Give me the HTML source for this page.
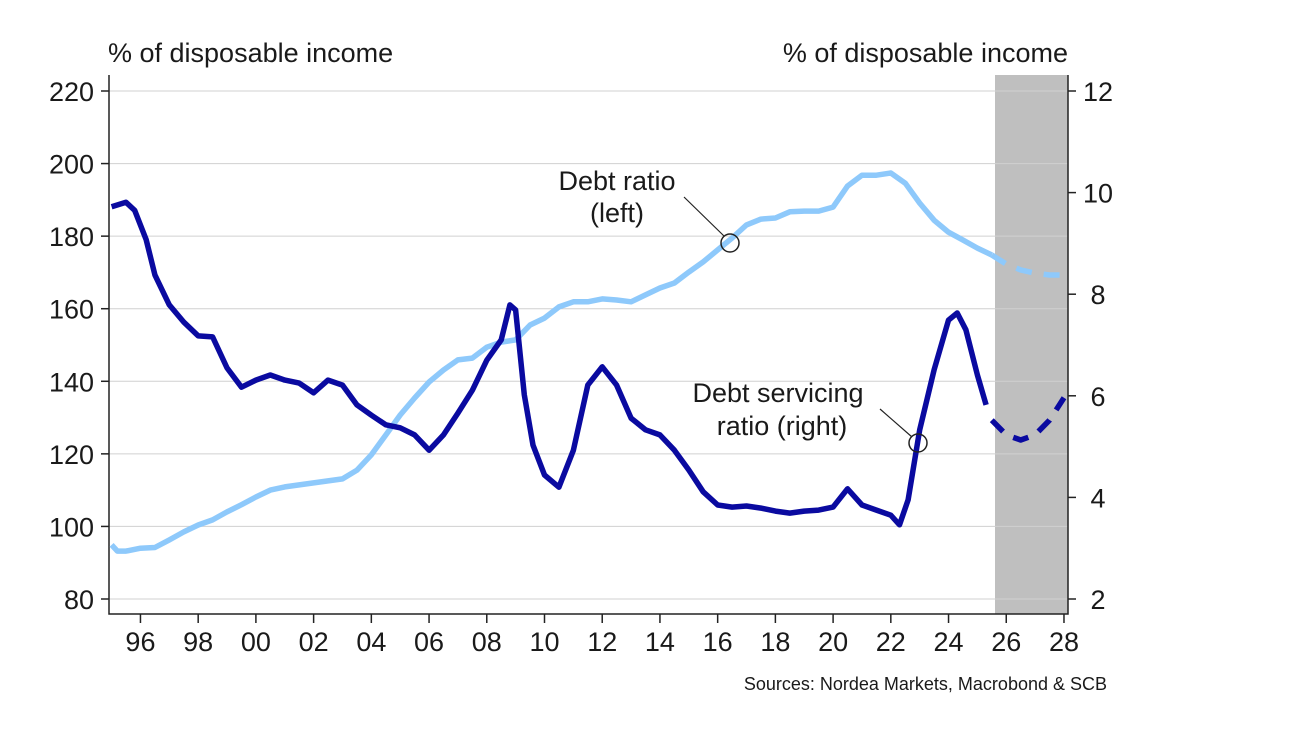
<!DOCTYPE html>
<html><head><meta charset="utf-8"><style>
body{margin:0;background:#fff;}
svg text{font-family:"Liberation Sans",sans-serif;fill:#1a1a1a;}
</style></head><body>
<svg width="1300" height="731" viewBox="0 0 1300 731">
<rect x="995" y="75" width="73" height="539" fill="#bfbfbf"/>
<g id="grid"></g>
<g id="axes"></g>
<g id="series"></g>
<text x="108" y="62" font-size="27">% of disposable income</text>
<text x="1068" y="62" font-size="27" text-anchor="end">% of disposable income</text>
<text x="617" y="190" font-size="27" text-anchor="middle">Debt ratio</text>
<text x="617" y="222" font-size="27" text-anchor="middle">(left)</text>
<line x1="684" y1="197" x2="724" y2="236" stroke="#222" stroke-width="1.2"/>
<circle cx="730" cy="243" r="9" fill="none" stroke="#222" stroke-width="1.5"/>
<text x="778" y="402" font-size="27" text-anchor="middle">Debt servicing</text>
<text x="782" y="435" font-size="27" text-anchor="middle">ratio (right)</text>
<line x1="880" y1="409" x2="912" y2="437" stroke="#222" stroke-width="1.2"/>
<circle cx="918" cy="443" r="9" fill="none" stroke="#222" stroke-width="1.5"/>
<text x="1107" y="690" font-size="18" text-anchor="end">Sources: Nordea Markets, Macrobond &amp; SCB</text>
</svg>
<script>
const leftTicks=[80,100,120,140,160,180,200,220];
const rightTicks=[2,4,6,8,10,12];
const xTickLabels=["96","98","00","02","04","06","08","10","12","14","16","18","20","22","24","26","28"];
const xTickYears=[1996,1998,2000,2002,2004,2006,2008,2010,2012,2014,2016,2018,2020,2022,2024,2026,2028];
const debtYears=[1995,1995.2,1995.5,1996,1996.5,1997,1997.5,1998,1998.5,1999,1999.5,2000,2000.5,2001,2002,2003,2003.5,2004,2004.5,2005,2005.5,2006,2006.5,2007,2007.5,2008,2008.5,2009,2009.5,2010,2010.5,2011,2011.5,2012,2012.5,2013,2013.5,2014,2014.5,2015,2015.5,2016,2016.5,2017,2017.5,2018,2018.5,2019,2019.5,2020,2020.5,2021,2021.5,2022,2022.5,2023,2023.5,2024,2024.5,2025,2025.5];
const debtValues=[94.9,93.2,93.2,94,94.2,96.3,98.5,100.4,101.8,104,106,108.1,110,110.9,112,113.1,115.5,119.7,125.2,130.7,135.4,139.8,143.1,145.9,146.4,149.4,150.8,151.4,155.5,157.4,160.5,161.9,161.9,162.7,162.4,161.9,163.8,165.7,167.1,170.1,172.9,176.2,179.5,183.1,184.7,185,186.7,186.9,186.9,188,193.8,196.8,196.8,197.4,194.6,189.1,184.4,181.1,178.9,176.7,174.8];
const debtFcYears=[2025.5,2026,2026.5,2027,2027.5,2028];
const debtFcValues=[174.8,172.3,170.7,169.8,169.3,169.3];
const dsrYears=[1995,1995.5,1995.8,1996.2,1996.5,1997,1997.5,1998,1998.5,1999,1999.5,2000,2000.5,2001,2001.5,2002,2002.5,2003,2003.5,2004,2004.5,2005,2005.5,2006,2006.5,2007,2007.5,2008,2008.5,2008.8,2009,2009.3,2009.6,2010,2010.5,2011,2011.5,2012,2012.5,2013,2013.5,2014,2014.5,2015,2015.5,2016,2016.5,2017,2017.5,2018,2018.5,2019,2019.5,2020,2020.5,2021,2021.5,2022,2022.3,2022.6,2023,2023.5,2024,2024.3,2024.6,2025,2025.3];
const dsrValues=[9.72,9.81,9.65,9.07,8.38,7.79,7.45,7.18,7.16,6.55,6.17,6.31,6.41,6.31,6.25,6.06,6.31,6.21,5.82,5.62,5.43,5.37,5.23,4.93,5.23,5.66,6.11,6.70,7.10,7.79,7.69,6.02,5.03,4.44,4.20,4.93,6.21,6.57,6.21,5.56,5.33,5.23,4.93,4.54,4.11,3.85,3.81,3.83,3.79,3.73,3.69,3.73,3.75,3.81,4.17,3.85,3.75,3.65,3.46,3.95,5.33,6.51,7.49,7.63,7.30,6.41,5.82];
const dsrFcYears=[2025.5,2026,2026.5,2027,2027.5,2028];
const dsrFcValues=[5.52,5.23,5.13,5.23,5.52,5.96];

const NS="http://www.w3.org/2000/svg";
const X=y=>111.6+(y-1995)*28.86;
const YL=v=>599-(v-80)*(508/140);
const YR=v=>599-(v-2)*50.8;
function mk(tag,attrs,parent){const e=document.createElementNS(NS,tag);for(const k in attrs)e.setAttribute(k,attrs[k]);document.getElementById(parent).appendChild(e);return e;}
leftTicks.forEach(v=>{
 const g=mk('line',{x1:109,x2:1068,y1:YL(v),y2:YL(v),stroke:'#d0d0d0','stroke-width':1},'grid');
 
 
 const t=mk('line',{x1:101,x2:109,y1:YL(v),y2:YL(v),stroke:'#222','stroke-width':1.5},'axes');
 
 
 const l=mk('text',{x:94,y:YL(v)+10,'font-size':27,'text-anchor':'end'},'axes');l.textContent=v;
 
 
});
rightTicks.forEach(v=>{
 const t=mk('line',{x1:1068,x2:1076,y1:YR(v),y2:YR(v),stroke:'#222','stroke-width':1.5},'axes');
 
 
 const l=mk('text',{x:1098,y:YR(v)+10,'font-size':27,'text-anchor':'middle'},'axes');l.textContent=v;
 
 
});
xTickYears.forEach((yr,i)=>{
 const t=mk('line',{x1:X(yr),x2:X(yr),y1:614,y2:623,stroke:'#222','stroke-width':1.5},'axes');
 
 
 const l=mk('text',{x:X(yr),y:651,'font-size':27,'text-anchor':'middle'},'axes');l.textContent=xTickLabels[i];
 
 
});
const ax=mk('path',{d:'M109 75 V614 H1068 V75',fill:'none',stroke:'#222','stroke-width':1.5},'axes');


function line(xs,vs,Y,color,dash,name){
 const d=xs.map((x,i)=>(i?'L':'M')+X(x).toFixed(1)+' '+Y(vs[i]).toFixed(1)).join(' ');
 const p=mk('path',{d:d,fill:'none',stroke:color,'stroke-width':5.5,'stroke-linejoin':'round'},'series');
 if(dash)p.setAttribute('stroke-dasharray',dash);
 
 
}
line(debtYears,debtValues,YL,'#8ec9fb',null,'debt-ratio-line');
line(debtFcYears,debtFcValues,YL,'#8ec9fb','16 12','debt-ratio-forecast');
line(dsrYears,dsrValues,YR,'#0a0aa0',null,'debt-servicing-line');
line(dsrFcYears,dsrFcValues,YR,'#0a0aa0','16 12','debt-servicing-forecast');
</script>
</body></html>
